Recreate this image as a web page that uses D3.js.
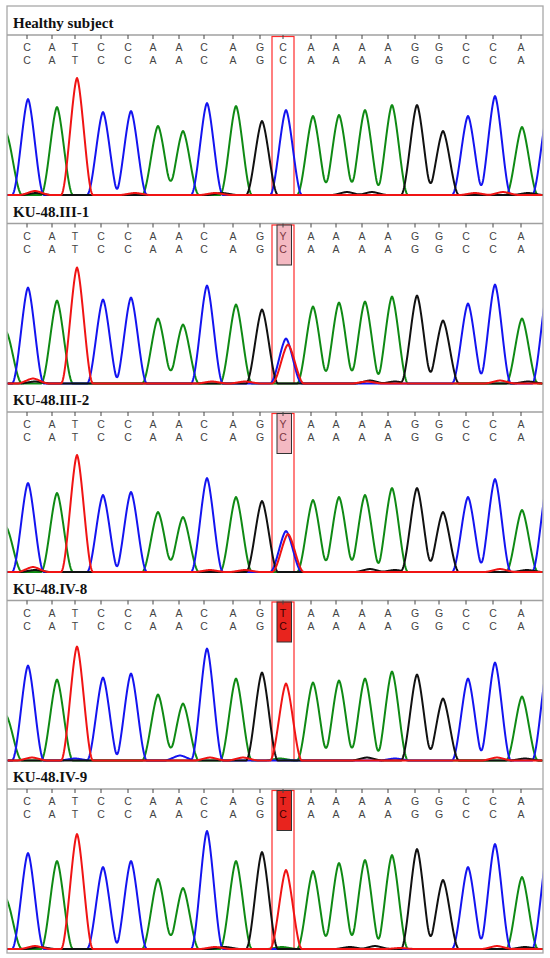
<!DOCTYPE html>
<html>
<head>
  <title>Chromatograms</title>
  <script src="https://d3js.org/d3.v7.min.js"></script>
  <style>
    body {
      margin: 0;
      background: #fff;
    }
  </style>
</head>
<body>
  <div id="chart"></div>

  <script>
    // panel titles and base calls (top row = sample call, bottom row = reference)
    const panelTitles = ["Healthy subject", "KU-48.III-1", "KU-48.III-2", "KU-48.IV-8", "KU-48.IV-9"];
    const refCalls = "CATCCAACAGCAAAAGGCCA";
    const sampleCalls = [
      "CATCCAACAGCAAAAGGCCA",
      "CATCCAACAGYAAAAGGCCA",
      "CATCCAACAGYAAAAGGCCA",
      "CATCCAACAGTAAAAGGCCA",
      "CATCCAACAGTAAAAGGCCA"
    ];
    const mutantIndex = 10;

    // scan positions of the base calls and of the peaks
    const callScan = [20, 45, 68, 94, 121, 146, 172, 197, 226, 253, 276, 304, 329, 355, 381, 408, 432, 459, 486, 514];
    const peakScan = [21, 50, 70, 96, 124, 151, 176, 200, 229, 255, 279, 306, 332, 358, 385, 410, 436, 461, 488, 515];

    // main peak heights, one per called base
    const heightsHealthy = [96, 88, 117, 83, 84, 69, 64, 92, 89, 74, 85, 79, 80, 85, 90, 90, 64, 79, 99, 68];
    const heightsIII1 = [96, 83, 116, 84, 86, 65, 59, 98, 79, 74, 45, 77, 81, 82, 87, 88, 63, 80, 99, 65];
    const heightsIII2 = [89, 79, 117, 77, 80, 60, 55, 94, 75, 71, 41, 72, 75, 77, 84, 84, 60, 75, 93, 62];
    const heightsIV8 = [95, 81, 114, 83, 87, 66, 57, 112, 82, 88, 77, 78, 80, 82, 89, 86, 62, 82, 98, 64];
    const heightsIV9 = [96, 88, 115, 82, 88, 70, 61, 118, 88, 97, 79, 78, 86, 89, 94, 100, 69, 82, 105, 72];

    // extra peaks: [dye, scan, height] -> edge peaks, secondary peak, baseline noise
    const extraHealthy = [["A", -1, 62], ["C", 541, 84], ["T", 28, 4], ["G", 29, 2], ["T", 128, 2], ["T", 208, 2], ["G", 215, 2], ["G", 340, 3], ["G", 365, 3], ["T", 468, 2], ["T", 496, 3], ["G", 521, 2]];
    const extraIII1 = [["A", -1, 52], ["C", 541, 96], ["T", 281, 39], ["T", 26, 5], ["G", 28, 2], ["T", 205, 2], ["T", 238, 2], ["G", 363, 3], ["T", 360, 2], ["G", 388, 2], ["T", 493, 3], ["G", 521, 2]];
    const extraIII2 = [["A", -1, 45], ["C", 541, 92], ["T", 281, 38], ["T", 26, 5], ["G", 28, 2], ["T", 203, 2], ["T", 238, 2], ["G", 363, 3], ["G", 388, 2], ["T", 493, 3], ["G", 520, 2]];
    const extraIV8 = [["A", -1, 45], ["C", 541, 97], ["T", 25, 3], ["C", 68, 2], ["C", 173, 5], ["T", 203, 3], ["T", 236, 3], ["A", 273, 2], ["G", 360, 3], ["C", 388, 2], ["T", 490, 3], ["G", 518, 2]];
    const extraIV9 = [["A", -1, 50], ["C", 541, 100], ["T", 28, 3], ["G", 33, 2], ["T", 208, 2], ["G", 218, 2], ["A", 275, 2], ["G", 343, 2], ["G", 368, 3], ["T", 393, 1], ["T", 490, 3], ["G", 518, 2]];

    const panelHeights = [heightsHealthy, heightsIII1, heightsIII2, heightsIV8, heightsIV9];
    const panelExtras = [extraHealthy, extraIII1, extraIII2, extraIV8, extraIV9];

    const dyeColor = { A: "#0f8a14", C: "#1414f0", G: "#111111", T: "#f01414" };
    const drawOrder = ["A", "C", "G", "T"];

    const width = 550, height = 958;
    const frameLeft = 7, frameRight = 543, frameTop = 6, frameBottom = 953;
    const firstSep = 35, panelStep = 188.5, plotH = 160;
    const halfWidth = 16; // peak half width at the foot, in scans

    // peak shape: slightly pointed top, reaches the baseline at +-halfWidth
    function peakShape(d) {
      const u = Math.abs(d) / halfWidth;
      if (u >= 1) return 0;
      const k = 1 - Math.pow(u, 1.6);
      return k * k;
    }

    const svg = d3.select("#chart").append("svg")
      .attr("width", width)
      .attr("height", height);

    const x = d3.scaleLinear().domain([0, 536]).range([frameLeft, frameRight]);

    const line = d3.line().curve(d3.curveLinear);

    // outer frame
    svg.append("rect")
      .attr("x", frameLeft).attr("y", frameTop)
      .attr("width", frameRight - frameLeft).attr("height", frameBottom - frameTop)
      .attr("fill", "none").attr("stroke", "#a8a8a8").attr("stroke-width", 1.3);

    panelTitles.forEach(function(title, p) {
      const sep = firstSep + p * panelStep;
      const y = d3.scaleLinear().domain([0, plotH]).range([sep + plotH, sep]);
      const g = svg.append("g");

      g.append("text")
        .attr("x", 13).attr("y", sep - 7)
        .attr("font-family", "'Liberation Serif', serif")
        .attr("font-weight", "bold").attr("font-size", 15)
        .attr("fill", "#111")
        .text(title);

      g.append("line")
        .attr("x1", frameLeft).attr("x2", frameRight)
        .attr("y1", sep).attr("y2", sep)
        .attr("stroke", "#a0a0a0").attr("stroke-width", 1.3);

      // mutation column
      const mx = x(callScan[mutantIndex]);
      g.append("rect")
        .attr("x", mx - 11).attr("y", sep + 1.5)
        .attr("width", 22).attr("height", plotH - 1.5)
        .attr("fill", "none").attr("stroke", "#ff2b2b").attr("stroke-width", 1.2);

      const call = sampleCalls[p][mutantIndex];
      if (call !== refCalls[mutantIndex]) {
        g.append("rect")
          .attr("x", mx - 6).attr("y", sep + 1.5)
          .attr("width", 14.5).attr("height", 40)
          .attr("fill", call === "Y" ? "#f4b9c2" : "#e8241e")
          .attr("stroke", "#333").attr("stroke-width", 1);
      }

      // ticks and base letters
      g.selectAll(".tick").data(callScan).join("line")
        .attr("x1", d => x(d)).attr("x2", d => x(d))
        .attr("y1", sep).attr("y2", sep + 4)
        .attr("stroke", "#444").attr("stroke-width", 1);

      [sampleCalls[p], refCalls].forEach(function(calls, row) {
        g.selectAll(".row" + row).data(calls.split("")).join("text")
          .attr("x", (d, i) => x(callScan[i]))
          .attr("y", sep + 16 + row * 13)
          .attr("text-anchor", "middle")
          .attr("font-family", "'Liberation Sans', Arial, sans-serif")
          .attr("font-size", 10.5)
          .attr("fill", (d, i) => i === mutantIndex && call !== refCalls[mutantIndex] ? (call === "Y" ? "#7a3540" : "#3a0000") : "#444")
          .text(d => d);
      });

      // traces
      const clipId = "clip-" + p;
      g.append("clipPath").attr("id", clipId)
        .append("rect")
        .attr("x", frameLeft + 0.7).attr("y", sep + 1)
        .attr("width", frameRight - frameLeft - 1.4).attr("height", plotH + 2);

      const peaks = [];
      sampleCalls[p].split("").forEach(function(b, i) {
        const dye = b === "Y" ? "C" : b;
        peaks.push([dye, peakScan[i], panelHeights[p][i]]);
      });
      panelExtras[p].forEach(d => peaks.push(d));

      const scans = d3.range(-8, 546, 0.5);
      drawOrder.forEach(function(dye) {
        const mine = peaks.filter(d => d[0] === dye);
        const pts = scans.map(function(s) {
          const v = d3.sum(mine, d => d[2] * peakShape(s - d[1]));
          return [x(s), y(v)];
        });
        g.append("path")
          .attr("clip-path", "url(#" + clipId + ")")
          .attr("d", line(pts))
          .attr("fill", "none")
          .attr("stroke", dyeColor[dye])
          .attr("stroke-width", 2)
          .attr("stroke-linejoin", "round");
      });
    });
  </script>
</body>
</html>
